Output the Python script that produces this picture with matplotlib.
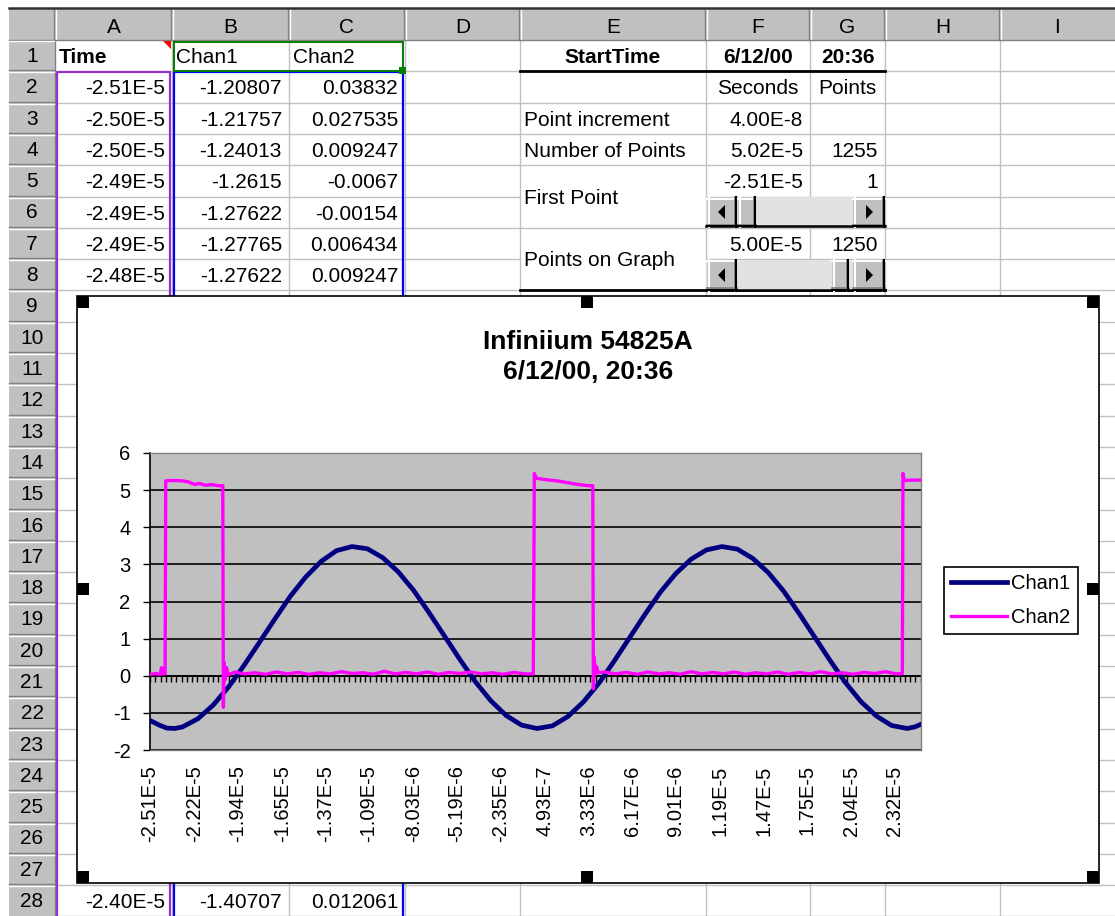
import numpy as np
import matplotlib.pyplot as plt
from matplotlib.patches import Rectangle, Polygon

plt.rcParams['font.family'] = ['Liberation Sans', 'DejaVu Sans']
plt.rcParams['axes.unicode_minus'] = False

#-------------------------------------------------------#
# Données lues sur la capture
#-------------------------------------------------------#

col_letters = ['A', 'B', 'C', 'D', 'E', 'F', 'G', 'H', 'I']

time_cells = ['-2.51E-5', '-2.50E-5', '-2.50E-5', '-2.49E-5', '-2.49E-5', '-2.49E-5', '-2.48E-5']
chan1_cells = ['-1.20807', '-1.21757', '-1.24013', '-1.2615', '-1.27622', '-1.27765', '-1.27622']
chan2_cells = ['0.03832', '0.027535', '0.009247', '-0.0067', '-0.00154', '0.006434', '0.009247']
row28_cells = ['-2.40E-5', '-1.40707', '0.012061']

info_labels = ['Point increment', 'Number of Points']
info_seconds = ['4.00E-8', '5.02E-5']
info_points = ['', '1255']
first_point = ['-2.51E-5', '1']
points_graph = ['5.00E-5', '1250']

title_lines = ['Infiniium 54825A', '6/12/00, 20:36']

x_labels = ['-2.51E-5', '-2.22E-5', '-1.94E-5', '-1.65E-5', '-1.37E-5', '-1.09E-5',
            '-8.03E-6', '-5.19E-6', '-2.35E-6', '4.93E-7', '3.33E-6', '6.17E-6',
            '9.01E-6', '1.19E-5', '1.47E-5', '1.75E-5', '2.04E-5', '2.32E-5']

# Chan1 (temps en microsecondes, volts)
chan1_pts = [(-25.07, -1.21), (-24.5, -1.33), (-24.0, -1.41), (-23.5, -1.42), (-23.0, -1.38),
             (-22.0, -1.16), (-21.0, -0.79), (-20.0, -0.30), (-19.0, 0.28), (-18.0, 0.90),
             (-17.0, 1.53), (-16.0, 2.14), (-15.0, 2.66), (-14.0, 3.08), (-13.0, 3.37),
             (-12.0, 3.48), (-11.0, 3.42), (-10.0, 3.18), (-9.0, 2.80), (-8.0, 2.30),
             (-7.0, 1.70), (-6.0, 1.07), (-5.0, 0.44), (-4.0, -0.16), (-3.0, -0.67),
             (-2.0, -1.07), (-1.0, -1.33), (0.0, -1.42), (1.0, -1.35), (2.0, -1.10),
             (3.0, -0.71), (4.0, -0.21), (5.0, 0.39), (6.0, 1.02), (7.0, 1.65),
             (8.0, 2.25), (9.0, 2.75), (10.0, 3.14), (11.0, 3.39), (12.0, 3.48),
             (13.0, 3.41), (14.0, 3.16), (15.0, 2.78), (16.0, 2.28), (17.0, 1.68),
             (18.0, 1.05), (19.0, 0.42), (20.0, -0.18), (21.0, -0.69), (22.0, -1.08),
             (23.0, -1.34), (24.0, -1.42), (24.5, -1.38), (24.89, -1.31)]

# Chan2 (temps en microsecondes, volts)
chan2_pts = [(-25.07, 0.04), (-24.7, 0.06), (-24.45, 0.03), (-24.35, 0.22), (-24.25, 0.05),
             (-24.12, 0.05), (-24.08, 5.25), (-23.6, 5.26), (-23.0, 5.25), (-22.6, 5.22),
             (-22.2, 5.15), (-21.9, 5.18), (-21.5, 5.13), (-21.1, 5.15), (-20.7, 5.12),
             (-20.38, 5.12), (-20.34, -0.85), (-20.29, 0.35), (-20.22, -0.10), (-20.14, 0.22),
             (-20.02, 0.02), (-19.6, 0.10), (-19.0, 0.05), (-18.3, 0.08), (-17.6, 0.04),
             (-16.9, 0.10), (-16.2, 0.05), (-15.5, 0.09), (-14.8, 0.04), (-14.1, 0.08),
             (-13.4, 0.05), (-12.7, 0.11), (-12.0, 0.06), (-11.3, 0.08), (-10.6, 0.04),
             (-9.9, 0.12), (-9.2, 0.05), (-8.5, 0.09), (-7.8, 0.05), (-7.1, 0.10),
             (-6.4, 0.04), (-5.7, 0.09), (-5.0, 0.06), (-4.3, 0.10), (-3.6, 0.05),
             (-2.9, 0.08), (-2.2, 0.04), (-1.5, 0.09), (-0.8, 0.05), (-0.24, 0.05),
             (-0.20, 3.00), (-0.17, 5.45), (-0.05, 5.32), (0.6, 5.28), (1.3, 5.25),
             (2.0, 5.20), (2.7, 5.15), (3.3, 5.12), (3.62, 5.12), (3.66, -0.35),
             (3.71, 0.50), (3.78, 0.05), (3.86, 0.25), (3.98, 0.08), (4.4, 0.10),
             (5.1, 0.05), (5.8, 0.09), (6.5, 0.04), (7.2, 0.10), (7.9, 0.05),
             (8.6, 0.08), (9.3, 0.04), (10.0, 0.11), (10.7, 0.05), (11.4, 0.09),
             (12.1, 0.05), (12.8, 0.10), (13.5, 0.04), (14.2, 0.08), (14.9, 0.05),
             (15.6, 0.10), (16.3, 0.04), (17.0, 0.09), (17.7, 0.05), (18.4, 0.11),
             (19.1, 0.05), (19.8, 0.08), (20.5, 0.04), (21.2, 0.09), (21.9, 0.06),
             (22.6, 0.11), (23.3, 0.05), (23.70, 0.06), (23.74, 5.45), (23.82, 5.26),
             (24.3, 5.27), (24.89, 5.27)]

#-------------------------------------------------------#
# Feuille de calcul (coordonnées en pixels)
#-------------------------------------------------------#

W, H = 1115, 916
fig = plt.figure(figsize=(W / 100, H / 100), dpi=100)
sh = fig.add_axes([0, 0, 1, 1])
sh.set_xlim(0, W)
sh.set_ylim(H, 0)
sh.axis('off')

cols = [55, 172, 289, 405, 520, 706, 810, 885, 1000, 1115]
RH = 31.3
FS = 15
GRID = '#c0c0c0'


def rtop(r):
    return 40 + (r - 1) * RH


# quadrillage
for x in cols[1:-1]:
    sh.plot([x, x], [40, H], color=GRID, lw=1, zorder=1)
for r in range(2, 30):
    y = rtop(r)
    if r in (6, 8):
        sh.plot([55, cols[4]], [y, y], color=GRID, lw=1, zorder=1)
        sh.plot([cols[5], W], [y, y], color=GRID, lw=1, zorder=1)
    else:
        sh.plot([55, W], [y, y], color=GRID, lw=1, zorder=1)

# en-têtes
sh.add_patch(Rectangle((9, 9), W - 9, 31, fc='#c0c0c0', ec='none', zorder=2))
sh.add_patch(Rectangle((9, 40), 46, H - 40, fc='#c0c0c0', ec='none', zorder=2))
for x in cols[:-1]:
    sh.plot([x - 1, x - 1], [9, 40], color='#808080', lw=1, zorder=3)
    sh.plot([x + 1, x + 1], [9, 40], color='white', lw=1, zorder=3)
sh.plot([55, 55], [40, H], color='#808080', lw=1, zorder=3)
sh.plot([9, W], [40, 40], color='#808080', lw=1, zorder=3)
for i, L in enumerate(col_letters):
    sh.text((cols[i] + cols[i + 1]) / 2, 33, L, ha='center', va='baseline',
            fontsize=FS, zorder=4)
for r in range(1, 29):
    y = rtop(r)
    if r > 1:
        sh.plot([9, 54], [y - 1, y - 1], color='#808080', lw=1, zorder=3)
    sh.plot([9, 54], [y + 1, y + 1], color='white', lw=1, zorder=3)
    sh.text(32, y + 22, str(r), ha='center', va='baseline', fontsize=FS, zorder=4)
sh.plot([9, W], [8, 8], color='#303030', lw=1.8, zorder=4)


def cell(c, r, s, align='left', bold=False, dy=23):
    if align == 'left':
        x = cols[c] + 4
    elif align == 'right':
        x = cols[c + 1] - 7
    else:
        x = (cols[c] + cols[c + 1]) / 2
    sh.text(x, rtop(r) + dy, s, ha=align, va='baseline', fontsize=FS,
            fontweight='bold' if bold else 'normal', zorder=4)


cell(0, 1, 'Time', bold=True)
cell(1, 1, 'Chan1')
cell(2, 1, 'Chan2')
for i in range(len(time_cells)):
    cell(0, i + 2, time_cells[i], 'right')
    cell(1, i + 2, chan1_cells[i], 'right')
    cell(2, i + 2, chan2_cells[i], 'right')
for i, s in enumerate(row28_cells):
    cell(i, 28, s, 'right')

cell(4, 1, 'StartTime', 'center', True)
cell(5, 1, title_lines[1].split(',')[0], 'center', True)
cell(6, 1, title_lines[1].split(', ')[1], 'center', True)
cell(5, 2, 'Seconds', 'center')
cell(6, 2, 'Points', 'center')
for i in range(len(info_labels)):
    cell(4, i + 3, info_labels[i])
    cell(5, i + 3, info_seconds[i], 'right')
    cell(6, i + 3, info_points[i], 'right')
cell(5, 5, first_point[0], 'right')
cell(6, 5, first_point[1], 'right')
cell(4, 6, 'First Point', dy=7)
cell(5, 7, points_graph[0], 'right')
cell(6, 7, points_graph[1], 'right')
cell(4, 8, 'Points on Graph', dy=7)

# bordures épaisses
sh.plot([cols[4], cols[7]], [rtop(2), rtop(2)], color='black', lw=2, zorder=5)
sh.plot([cols[4], cols[7]], [rtop(9), rtop(9)], color='black', lw=2, zorder=5)

# sélections
sh.plot([57, 57, 170, 170], [H, 72, 72, H], color='#9932cc', lw=1.6, zorder=5)
sh.plot([174, 174, 403, 403], [H, 72, 72, H], color='#0000ff', lw=1.6, zorder=5)
sh.add_patch(Rectangle((174, 41.5), 229, 29.5, fill=False, ec='#008000', lw=1.4, zorder=5))
sh.add_patch(Rectangle((399, 67), 7, 7, fc='#008000', ec='none', zorder=6))
sh.add_patch(Polygon([(163, 41), (171, 41), (171, 49)], closed=True, fc='red', ec='none', zorder=6))


# barres de défilement
def bouton(x0, y0, w, h, tri=None):
    sh.add_patch(Rectangle((x0, y0), w, h, fc='#c0c0c0', ec='none', zorder=6))
    sh.plot([x0, x0 + w], [y0 + 1.5, y0 + 1.5], color='white', lw=1.5, zorder=7)
    sh.plot([x0 + 1.5, x0 + 1.5], [y0, y0 + h], color='white', lw=1.5, zorder=7)
    sh.plot([x0, x0 + w], [y0 + h - 2.5, y0 + h - 2.5], color='#808080', lw=1.2, zorder=7)
    sh.plot([x0 + w - 2.5, x0 + w - 2.5], [y0, y0 + h], color='#808080', lw=1.2, zorder=7)
    sh.plot([x0, x0 + w], [y0 + h - 1, y0 + h - 1], color='black', lw=1.5, zorder=7)
    sh.plot([x0 + w - 1, x0 + w - 1], [y0, y0 + h], color='black', lw=1.5, zorder=7)
    cx, cy = x0 + w / 2, y0 + h / 2
    if tri == 'left':
        sh.add_patch(Polygon([(cx - 4, cy), (cx + 3, cy - 7), (cx + 3, cy + 7)],
                             closed=True, fc='black', ec='none', zorder=8))
    elif tri == 'right':
        sh.add_patch(Polygon([(cx + 4, cy), (cx - 3, cy - 7), (cx - 3, cy + 7)],
                             closed=True, fc='black', ec='none', zorder=8))


def scroll(y0, h, thumb):
    sh.add_patch(Rectangle((706, y0), 179, h, fc='#e2e2e2', ec='none', zorder=5))
    sh.plot([706, 885], [y0 + h - 1, y0 + h - 1], color='black', lw=1.8, zorder=6)
    bouton(707, y0, 30, h, 'left')
    bouton(thumb[0], y0, thumb[1] - thumb[0], h)
    bouton(853, y0, 32, h, 'right')


scroll(rtop(6) + 0.5, 30, (738, 756))
scroll(rtop(8) + 0.5, 31, (832, 849))

#-------------------------------------------------------#
# Objet graphique
#-------------------------------------------------------#

sh.add_patch(Rectangle((77, 296), 1022, 587, fc='white', ec='black', lw=1.2, zorder=10))
for hx, hy in [(77, 296), (581, 296), (1087, 296), (77, 583), (1087, 583),
               (77, 871), (581, 871), (1087, 871)]:
    sh.add_patch(Rectangle((hx, hy), 12, 12, fc='black', ec='none', zorder=11))
sh.text(588, 349, title_lines[0], ha='center', va='baseline', fontsize=19,
        fontweight='bold', zorder=12)
sh.text(588, 379, title_lines[1], ha='center', va='baseline', fontsize=19,
        fontweight='bold', zorder=12)

ax = fig.add_axes([150 / W, (H - 750) / H, 771 / W, 297 / H])
ax.set_facecolor('#c0c0c0')

t1, v1 = zip(*chan1_pts)
t2, v2 = zip(*chan2_pts)
t1 = np.array(t1) * 1e-6
t2 = np.array(t2) * 1e-6

ax.set_xlim(-25.09e-6, 24.91e-6)
ax.set_ylim(-2, 6)
ax.set_yticks(range(-2, 7))
ax.grid(axis='y', color='black', lw=1.2)
ax.set_axisbelow(True)

ax.axhline(0, color='black', lw=1.2, zorder=1.5)
ax.vlines(np.arange(-25.09e-6, 24.91e-6, 0.34e-6), -0.17, 0, color='black', lw=1, zorder=1.5)

ax.plot(t1, v1, color='#000080', lw=3.4, label='Chan1', zorder=3)
ax.plot(t2, v2, color='#ff00ff', lw=2.4, label='Chan2', zorder=4)

ax.set_xticks([float(s) for s in x_labels])
ax.set_xticklabels(x_labels, rotation=90, va='top', ha='center')
ax.tick_params(axis='x', length=0, pad=11, labelsize=14.5)
ax.tick_params(axis='y', direction='out', length=5, width=1, pad=9, labelsize=14.5)

for s in ['top', 'right', 'bottom']:
    ax.spines[s].set_color('#808080')
    ax.spines[s].set_linewidth(1)
ax.spines['left'].set_color('black')
ax.spines['left'].set_linewidth(1.2)

leg = ax.legend(loc='center left', bbox_to_anchor=(944 / W, 1 - 600.5 / H),
                bbox_transform=fig.transFigure, fancybox=False, edgecolor='black',
                framealpha=1, fontsize=14.5, handlelength=2.8, handletextpad=0.2,
                borderpad=0.35, labelspacing=0.75, borderaxespad=0)
leg.get_frame().set_linewidth(1.2)

fig.savefig('out.png', dpi=100)
